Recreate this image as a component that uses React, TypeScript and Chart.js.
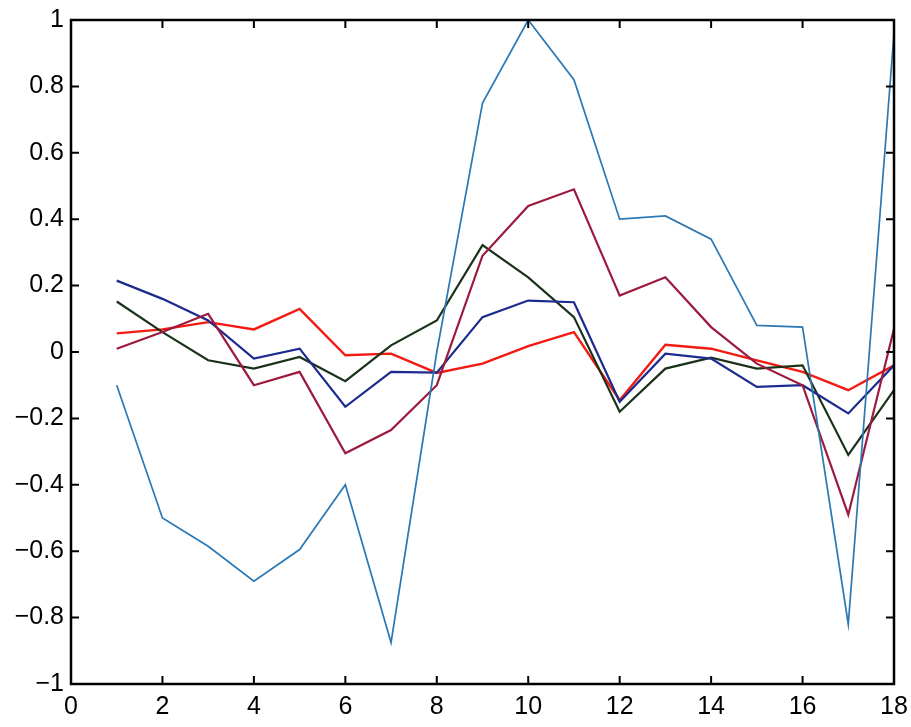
import React, { useEffect, useRef } from "react";
import { Chart, registerables } from "chart.js";

Chart.register(...registerables);

const xValues = [1, 2, 3, 4, 5, 6, 7, 8, 9, 10, 11, 12, 13, 14, 15, 16, 17, 18];
const lightBlue = [-0.1, -0.5, -0.585, -0.69, -0.595, -0.4, -0.875, 0.0, 0.75, 1.0, 0.82, 0.4, 0.41, 0.34, 0.08, 0.075, -0.82, 0.96];
const crimson = [0.01, 0.06, 0.115, -0.1, -0.06, -0.305, -0.235, -0.1, 0.29, 0.44, 0.49, 0.17, 0.225, 0.075, -0.035, -0.1, -0.49, 0.07];
const navy = [0.215, 0.16, 0.095, -0.02, 0.01, -0.165, -0.06, -0.062, 0.105, 0.155, 0.15, -0.15, -0.005, -0.02, -0.105, -0.1, -0.185, -0.04];
const darkGreen = [0.152, 0.06, -0.025, -0.05, -0.015, -0.088, 0.02, 0.095, 0.322, 0.225, 0.105, -0.18, -0.05, -0.017, -0.05, -0.04, -0.31, -0.115];
const red = [0.056, 0.068, 0.09, 0.068, 0.13, -0.01, -0.005, -0.063, -0.035, 0.018, 0.06, -0.145, 0.022, 0.01, -0.025, -0.06, -0.115, -0.04];

const xTicks = [0, 2, 4, 6, 8, 10, 12, 14, 16, 18];
const yTicks = [-1, -0.8, -0.6, -0.4, -0.2, 0, 0.2, 0.4, 0.6, 0.8, 1];

const toPts = (ys: number[]) => ys.map((y, i) => ({ x: xValues[i], y }));

const boxPlugin = {
  id: "matlabBox",
  afterDraw(chart: any) {
    const { ctx, chartArea } = chart;
    const { left, right, top, bottom } = chartArea;
    const xs = chart.scales.x;
    const ys = chart.scales.y;
    ctx.save();
    ctx.strokeStyle = "#000";
    ctx.lineWidth = 2.5;
    ctx.strokeRect(left, top, right - left, bottom - top);
    ctx.lineWidth = 2;
    const tl = 8;
    ctx.beginPath();
    xTicks.forEach((v) => {
      const px = xs.getPixelForValue(v);
      ctx.moveTo(px, bottom);
      ctx.lineTo(px, bottom - tl);
      ctx.moveTo(px, top);
      ctx.lineTo(px, top + tl);
    });
    yTicks.forEach((v) => {
      const py = ys.getPixelForValue(v);
      ctx.moveTo(left, py);
      ctx.lineTo(left + tl, py);
      ctx.moveTo(right, py);
      ctx.lineTo(right - tl, py);
    });
    ctx.stroke();
    ctx.restore();
  },
};

export default function App() {
  const ref = useRef<HTMLCanvasElement | null>(null);
  useEffect(() => {
    if (!ref.current) return;
    const font = { family: "'Liberation Sans', Arial, sans-serif", size: 25 };
    const mk = (label: string, data: number[], color: string, w: number) => ({
      label,
      data: toPts(data),
      borderColor: color,
      backgroundColor: color,
      borderWidth: w,
      pointRadius: 0,
      tension: 0,
      fill: false,
    });
    const chart = new Chart(ref.current, {
      type: "line",
      data: {
        datasets: [
          mk("s1", lightBlue, "#2b78b4", 1.7),
          mk("s2", crimson, "#9c1a3e", 2.2),
          mk("s3", navy, "#1b2a8e", 2.2),
          mk("s4", darkGreen, "#1a3219", 2.2),
          mk("s5", red, "#f21a12", 2.4),
        ],
      },
      options: {
        animation: false,
        responsive: false,
        maintainAspectRatio: false,
        layout: { padding: { top: 20, right: 17, left: 0, bottom: 0 } },
        plugins: { legend: { display: false }, tooltip: { enabled: false } },
        scales: {
          x: {
            type: "linear",
            min: 0,
            max: 18,
            grid: { display: false, drawTicks: false },
            border: { display: false },
            afterBuildTicks: (s: any) => {
              s.ticks = xTicks.map((v) => ({ value: v }));
            },
            afterFit: (s: any) => {
              s.height = 43;
              s.paddingLeft = 0;
              s.paddingRight = 0;
            },
            ticks: { color: "#000", font, padding: 8, maxRotation: 0, autoSkip: false },
          },
          y: {
            type: "linear",
            min: -1,
            max: 1,
            grid: { display: false, drawTicks: false },
            border: { display: false },
            afterBuildTicks: (s: any) => {
              s.ticks = yTicks.map((v) => ({ value: v }));
            },
            afterFit: (s: any) => {
              s.width = 71;
              s.paddingTop = 0;
              s.paddingBottom = 0;
            },
            ticks: {
              color: "#000",
              font,
              padding: 7,
              autoSkip: false,
              callback: (v: any) => {
                const n = Math.round(Number(v) * 10) / 10;
                return n < 0 ? "\u2212" + String(-n) : String(n);
              },
            },
          },
        },
      },
      plugins: [boxPlugin],
    } as any);
    return () => chart.destroy();
  }, []);
  return (
    <div style={{ position: "fixed", left: 0, top: 0, width: 911, height: 727, background: "#fff" }}>
      <canvas ref={ref} width={911} height={727} style={{ width: 911, height: 727 }} />
    </div>
  );
}
